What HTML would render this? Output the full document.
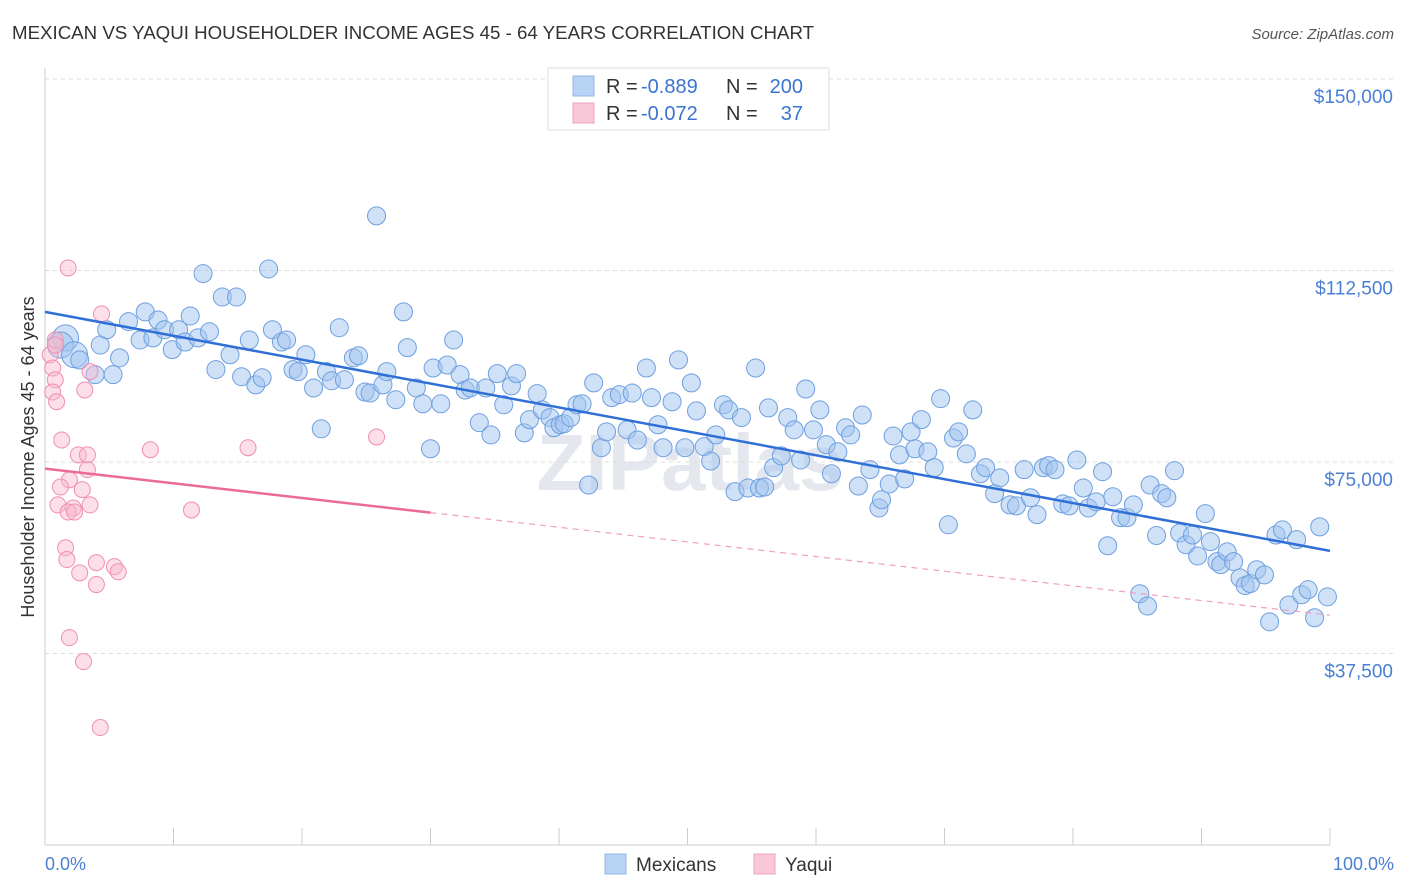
<!DOCTYPE html>
<html><head><meta charset="utf-8"><style>
body{margin:0;background:#fff;font-family:"Liberation Sans",sans-serif;}
svg{display:block}
</style></head><body>
<svg id="chart" width="1406" height="892">
<text x="12" y="39" font-size="18.7" fill="#333">MEXICAN VS YAQUI HOUSEHOLDER INCOME AGES 45 - 64 YEARS CORRELATION CHART</text>
<text x="1394" y="39" font-size="15" fill="#555" font-style="italic" text-anchor="end">Source: ZipAtlas.com</text>
<text x="690" y="490" font-size="80" fill="#e4e8ee" font-weight="bold" text-anchor="middle">ZIPatlas</text>
<g id="grid"></g>
<g id="axes"></g>
<g id="pts"></g>
<g id="trend"></g>
<text transform="translate(34,457) rotate(-90)" font-size="18" fill="#333" text-anchor="middle">Householder Income Ages 45 - 64 years</text>
<text x="45" y="870" font-size="18" fill="#4a7fd4">0.0%</text>
<text x="1394" y="870" font-size="18" fill="#4a7fd4" text-anchor="end">100.0%</text>
<g>
<rect x="548" y="68" width="281" height="62" fill="#fff" stroke="#ddd"/>
<rect x="573" y="76" width="21" height="20" fill="#b8d2f4" stroke="#8fb6ea"/>
<rect x="573" y="103" width="21" height="20" fill="#f9c8d8" stroke="#f0a0bd"/>
<text x="606" y="93" font-size="20" fill="#333">R =</text>
<text x="641" y="93" font-size="20" fill="#3a74d0">-0.889</text>
<text x="726" y="93" font-size="20" fill="#333">N =</text>
<text x="803" y="93" font-size="20" fill="#3a74d0" text-anchor="end">200</text>
<text x="606" y="120" font-size="20" fill="#333">R =</text>
<text x="641" y="120" font-size="20" fill="#3a74d0">-0.072</text>
<text x="726" y="120" font-size="20" fill="#333">N =</text>
<text x="803" y="120" font-size="20" fill="#3a74d0" text-anchor="end">37</text>
</g>
<g>
<rect x="605" y="854" width="21" height="20" fill="#b8d2f4" stroke="#8fb6ea"/>
<text x="636" y="871" font-size="19" fill="#333">Mexicans</text>
<rect x="754" y="854" width="21" height="20" fill="#f9c8d8" stroke="#f0a0bd"/>
<text x="785" y="871" font-size="19" fill="#333">Yaqui</text>
</g>
</svg>
<script>
const yTicks=[150000,112500,75000,37500];
const yTickLabels=["$150,000","$112,500","$75,000","$37,500"];
const xTicks=[0,10,20,30,40,50,60,70,80,90,100];
const mexX=[1.6,1.2,2.3,4.3,2.7,3.9,5.3,5.8,4.8,6.5,7.8,8.8,7.4,8.4,9.3,9.9,10.4,11.3,10.9,11.9,12.3,12.8,13.3,13.8,14.4,14.9,15.3,15.9,16.4,16.9,17.4,17.7,18.4,18.8,19.3,19.7,20.3,20.9,21.5,21.9,22.3,22.9,23.3,24.0,24.4,24.9,25.3,25.8,26.3,26.6,27.3,27.9,28.2,28.9,29.4,30.0,30.2,30.8,31.3,31.8,32.3,32.7,33.1,33.8,34.3,34.7,35.2,35.7,36.3,36.7,37.3,37.7,38.3,38.7,39.3,39.6,40.1,40.4,40.9,41.4,41.8,42.3,42.7,43.3,43.7,44.1,44.7,45.3,45.7,46.1,46.8,47.2,47.7,48.1,48.8,49.3,49.8,50.3,50.7,51.3,51.8,52.2,52.8,53.2,53.7,54.2,54.7,55.3,55.6,56.0,56.3,56.7,57.3,57.8,58.3,58.8,59.2,59.8,60.3,60.8,61.2,61.7,62.3,62.7,63.3,63.6,64.2,64.9,65.1,65.7,66.0,66.5,66.9,67.4,67.7,68.2,68.7,69.2,69.7,70.3,70.7,71.1,71.7,72.2,72.8,73.2,73.9,74.3,75.1,75.6,76.2,76.7,77.2,77.7,78.1,78.6,79.2,79.7,80.3,80.8,81.2,81.8,82.3,82.7,83.1,83.7,84.2,84.7,85.2,85.8,86.0,86.5,86.9,87.3,87.9,88.3,88.8,89.3,89.7,90.3,90.7,91.2,91.5,92.0,92.5,93.0,93.4,93.8,94.3,94.9,95.3,95.8,96.3,96.8,97.4,97.8,98.3,98.8,99.2,99.8];
const mexY=[99.3,97.9,96.0,97.9,95.0,92.1,92.1,95.4,100.9,102.5,104.4,102.8,98.9,99.3,100.9,97.0,100.9,103.6,98.5,99.3,111.9,100.5,93.1,107.3,96.0,107.3,91.7,98.9,90.1,91.5,112.8,100.9,98.5,98.9,93.1,92.7,96.0,89.5,81.5,92.7,90.9,101.3,91.1,95.4,95.8,88.7,88.5,123.2,90.1,92.7,87.2,104.4,97.4,89.5,86.4,77.6,93.4,86.4,94.0,98.9,92.1,89.1,89.5,82.7,89.5,80.3,92.3,86.2,89.9,92.3,80.7,83.3,88.4,85.2,83.7,81.7,82.3,82.5,83.7,86.2,86.4,70.5,90.5,77.8,80.9,87.6,88.2,81.3,88.5,79.3,93.4,87.6,82.3,77.8,86.8,95.0,77.8,90.5,85.0,78.0,75.2,80.3,86.2,85.2,69.2,83.7,69.9,93.4,69.9,70.1,85.6,73.9,76.2,83.7,81.3,75.4,89.3,81.3,85.2,78.4,72.7,77.0,81.7,80.3,70.3,84.2,73.5,66.0,67.6,70.7,80.1,76.4,71.7,80.9,77.6,83.3,77.0,73.9,87.4,62.7,79.7,80.9,76.6,85.2,72.7,73.9,68.8,71.9,66.6,66.4,73.5,68.0,64.7,73.9,74.3,73.5,66.8,66.4,75.4,69.9,66.0,67.2,73.1,58.6,68.2,64.1,64.1,66.6,49.2,46.8,70.5,60.6,68.8,68.0,73.3,61.1,58.8,60.7,56.6,64.9,59.4,55.5,54.9,57.4,55.5,52.3,50.8,51.2,53.9,52.9,43.7,60.7,61.7,47.0,59.8,49.0,50.0,44.5,62.3,48.6];
const yaqX=[1.8,0.8,0.4,0.6,0.8,0.6,0.9,3.1,3.5,4.4,1.3,2.6,3.3,3.3,1.9,1.2,2.9,1.0,2.2,1.8,2.3,3.5,8.2,15.8,25.8,11.4,1.6,1.7,2.7,4.0,5.4,5.7,4.0,1.9,3.0,4.3,0.8];
const yaqY=[113.0,98.9,96.0,93.4,91.1,88.7,86.8,89.1,92.7,104.0,79.3,76.4,76.4,73.5,71.5,70.1,69.6,66.6,66.0,65.2,65.2,66.6,77.4,77.8,79.9,65.6,58.2,55.9,53.3,55.3,54.5,53.5,51.0,40.6,35.9,23.0,97.9];
const mexTrend=[104.4,57.6];
const yaqTrend=[73.7,45.0];
const yaqSolidEnd=30;

const NS="http://www.w3.org/2000/svg";
const X=p=>45+p*12.85;
const Y=v=>845-v/150000*766;
function mk(tag,attrs,parent){const e=document.createElementNS(NS,tag);for(const k in attrs)e.setAttribute(k,attrs[k]);parent.appendChild(e);return e;}
const grid=document.getElementById('grid'),axes=document.getElementById('axes'),pts=document.getElementById('pts'),tr=document.getElementById('trend');
yTicks.forEach((t,i)=>{
 const l=mk('line',{x1:45,x2:1395,y1:Y(t),y2:Y(t),stroke:'#dcdcdc','stroke-dasharray':'4,4'},grid);
 
 
 const tx=mk('text',{x:1393,y:Y(t)+24,'font-size':19,fill:'#4a7fd4','text-anchor':'end'},grid);
 tx.textContent=yTickLabels[i];
 
 
});
const ya=mk('line',{x1:45,x2:45,y1:68,y2:845,stroke:'#ccc'},axes);


const xa=mk('line',{x1:45,x2:1330,y1:845,y2:845,stroke:'#ccc'},axes);


xTicks.forEach(t=>{
 const l=mk('line',{x1:X(t),x2:X(t),y1:828,y2:845,stroke:'#ccc'},axes);
 
 
});
mexX.forEach((x,i)=>{
 const r=i<3?13:9;
 const c=mk('circle',{cx:X(x),cy:Y(mexY[i]*1000),r:r,fill:'rgba(160,195,240,0.5)',stroke:'#6e9fe0','stroke-width':1},pts);
 
 
});
yaqX.forEach((x,i)=>{
 const c=mk('circle',{cx:X(x),cy:Y(yaqY[i]*1000),r:8,fill:'rgba(248,185,205,0.45)',stroke:'#f08fb0','stroke-width':1},pts);
 
 
});
const yq=v=>yaqTrend[0]+(yaqTrend[1]-yaqTrend[0])*v/100;
const t1=mk('line',{x1:X(0),y1:Y(mexTrend[0]*1000),x2:X(100),y2:Y(mexTrend[1]*1000),stroke:'#2f6fd6','stroke-width':2.5},tr);


const t2=mk('line',{x1:X(0),y1:Y(yq(0)*1000),x2:X(yaqSolidEnd),y2:Y(yq(yaqSolidEnd)*1000),stroke:'#ec6a96','stroke-width':2.5},tr);


const t3=mk('line',{x1:X(yaqSolidEnd),y1:Y(yq(yaqSolidEnd)*1000),x2:X(100),y2:Y(yq(100)*1000),stroke:'#f0a0bd','stroke-width':1.2,'stroke-dasharray':'6,5'},tr);


</script>
</body></html>
